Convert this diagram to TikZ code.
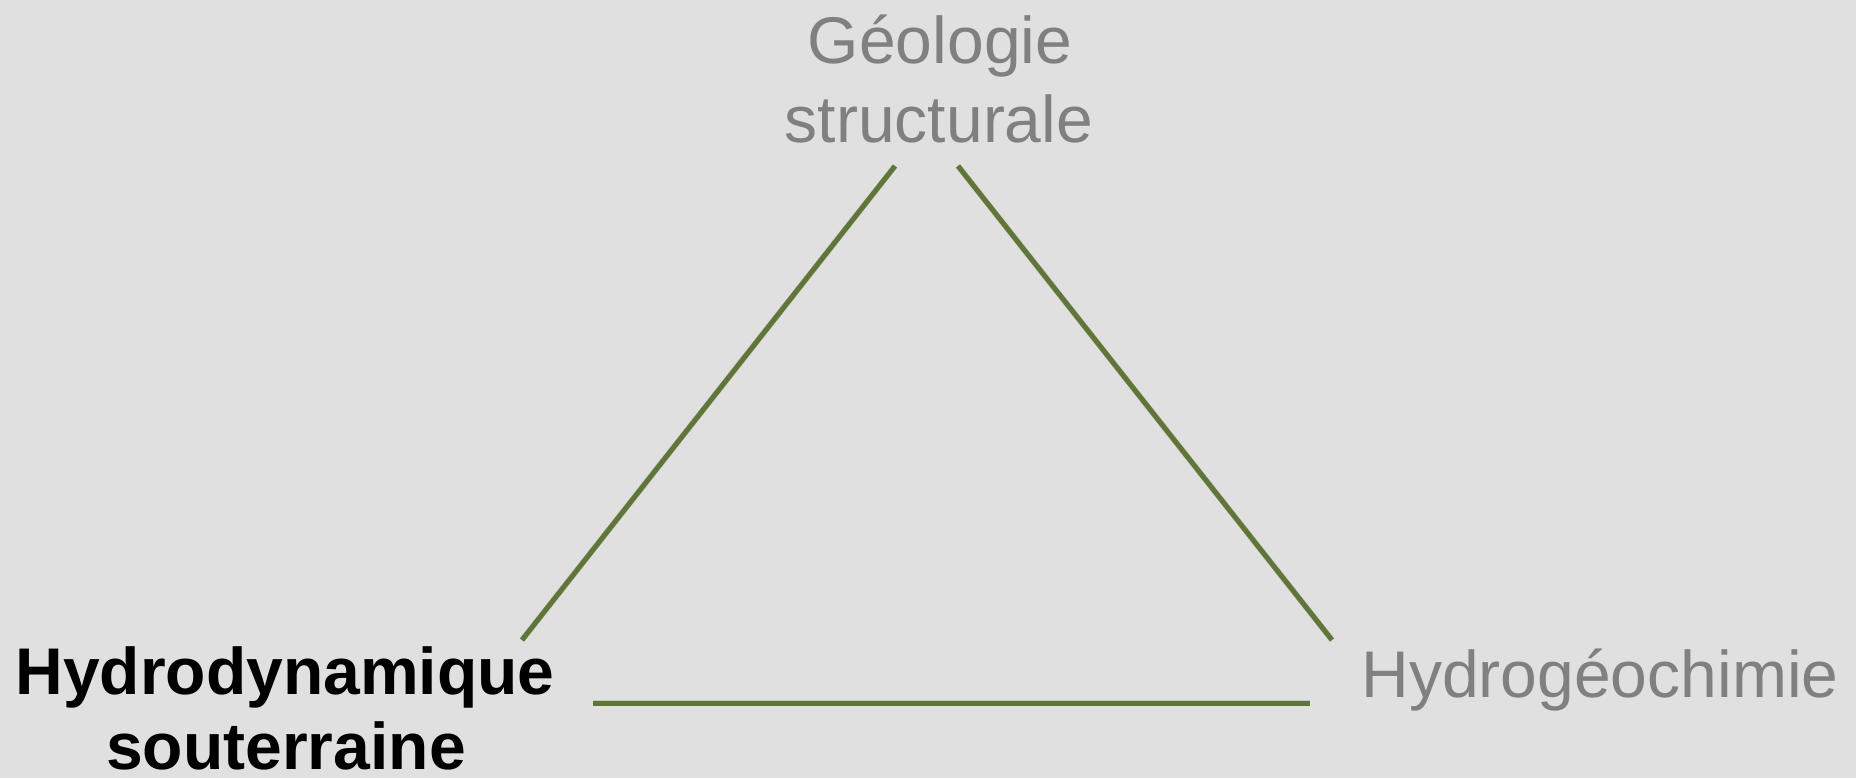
\documentclass[tikz,border=0pt]{standalone}
\usepackage{fontspec}
\setmainfont{Liberation Sans}
\definecolor{bg}{HTML}{E0E0E0}
\definecolor{olive}{HTML}{5F7636}
\definecolor{txtgray}{HTML}{808080}
\begin{document}
\begin{tikzpicture}[x=0.5pt,y=-0.5pt,
  edge/.style={draw=olive,line width=2.5pt},
  shadowedge/.style={draw=black,opacity=0.12,line width=3pt},
  label/.style={inner sep=0pt,anchor=base,font=\fontsize{33}{40}\selectfont,align=center}]
\fill[bg] (0,0) rectangle (1856,778);
\useasboundingbox (0,0) rectangle (1856,778);
% texts
\node[label,text=txtgray] (geo1) at (940,63) {Géologie};
\node[label,text=txtgray] (geo2) at (939,142) {structurale};
\node[label,text=black,font=\fontsize{33}{40}\selectfont\bfseries] (hyd1) at (285,694) {Hydrodynamique};
\node[label,text=black,font=\fontsize{33}{40}\selectfont\bfseries] (hyd2) at (286,769) {souterraine};
\node[label,text=txtgray] (chim) at (1600,697) {Hydrogéochimie};
% connector end points
\coordinate (lb) at (522,640);
\coordinate (lt) at (895,166);
\coordinate (rt) at (958,166);
\coordinate (rb) at (1332,640);
\coordinate (bl) at (593,703);
\coordinate (br) at (1310,703);
% shadows
\begin{scope}[shift={(2,3)}]
\draw[shadowedge] (lb) -- (lt);
\draw[shadowedge] (rt) -- (rb);
\draw[shadowedge] (bl) -- (br);
\end{scope}
% edges
\draw[edge] (lb) -- (lt);
\draw[edge] (rt) -- (rb);
\draw[edge] (bl) -- (br);
\end{tikzpicture}
\end{document}
